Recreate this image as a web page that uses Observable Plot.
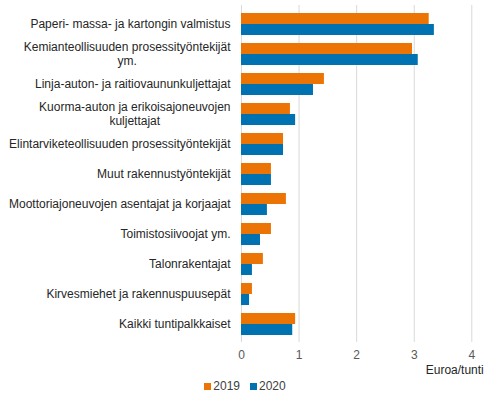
<!DOCTYPE html>
<html>
<head>
<meta charset="utf-8">
<script src="https://cdn.jsdelivr.net/npm/d3@7"></script>
<script src="https://cdn.jsdelivr.net/npm/@observablehq/plot@0.6"></script>
<style>
  body { margin: 0; background: #fff; font-family: "Liberation Sans", Arial, sans-serif; }
  #legend { display: flex; justify-content: center; gap: 10px; font-size: 12px; color: #404040; padding-left: 4px; height: 16px; align-items: center; }
  #legend span.sw { display: inline-block; width: 7px; height: 7px; margin-right: 2px; }
</style>
</head>
<body>
<div id="chart"></div>
<div id="legend"></div>
<script>
const categories = [
  "Paperi- massa- ja kartongin valmistus",
  "Kemianteollisuuden prosessityöntekijät\nym.",
  "Linja-auton- ja raitiovaununkuljettajat",
  "Kuorma-auton ja erikoisajoneuvojen\nkuljettajat",
  "Elintarviketeollisuuden prosessityöntekijät",
  "Muut rakennustyöntekijät",
  "Moottoriajoneuvojen asentajat ja korjaajat",
  "Toimistosiivoojat ym.",
  "Talonrakentajat",
  "Kirvesmiehet ja rakennuspuusepät",
  "Kaikki tuntipalkkaiset"
];
const v2019 = [3.26, 2.97, 1.44, 0.85, 0.73, 0.52, 0.78, 0.52, 0.38, 0.19, 0.94];
const v2020 = [3.35, 3.07, 1.25, 0.94, 0.73, 0.52, 0.45, 0.33, 0.19, 0.14, 0.89];
const years = ["2019", "2020"];
const colors = ["#ec7404", "#0072b1"];
const xTicks = [0, 1, 2, 3, 4];

const rows2019 = categories.map((c, i) => ({ category: c, value: v2019[i] }));
const rows2020 = categories.map((c, i) => ({ category: c, value: v2020[i] }));

const half = 11;
const labelFont = "12px 'Liberation Sans', Arial, sans-serif";
const labelColor = "#262626";

// wrapped labels: lines centred on each other, block right-aligned (Excel style)
const ctx = document.createElement("canvas").getContext("2d");
ctx.font = labelFont;
const wrapMarks = [];
categories.filter(c => c.includes("\n")).forEach(c => {
  const lines = c.split("\n");
  const maxW = d3.max(lines, l => ctx.measureText(l).width);
  lines.forEach((line, i) => {
    wrapMarks.push(Plot.text([c], {
      y: d => d, text: () => line, frameAnchor: "left", textAnchor: "middle",
      dx: -11 - maxW / 2, dy: (i - (lines.length - 1) / 2) * 14,
      fill: labelColor, fontSize: 12
    }));
  });
});

const plot = Plot.plot({
  width: 486,
  height: 378,
  marginTop: 5,
  marginBottom: 36,
  marginLeft: 241,
  marginRight: 14.7,
  style: { fontFamily: "Liberation Sans, Arial, sans-serif", fontSize: "12px", color: "#404040" },
  x: { domain: [0, 4], ticks: xTicks, label: null },
  y: { domain: categories, paddingInner: 0.28, paddingOuter: 0.16, label: null },
  marks: [
    Plot.gridX(xTicks, { stroke: "#d9d9d9", strokeOpacity: 1, strokeWidth: 1 }),
    Plot.barX(rows2019, { x: "value", y: "category", fill: colors[0], insetBottom: half }),
    Plot.barX(rows2020, { x: "value", y: "category", fill: colors[1], insetTop: half }),
    Plot.axisX({ ticks: xTicks, tickFormat: d => String(d), tickSize: 0, tickPadding: 8, fill: "#595959", label: null, fontSize: 12 }),
    Plot.axisY({ tickSize: 0, tickPadding: 11, label: null, fontSize: 12, fill: labelColor,
      tickFormat: d => d.includes("\n") ? "" : d }),
    ...wrapMarks,
    Plot.text(["Euroa/tunti"], { frameAnchor: "bottom-right", textAnchor: "end", dx: 12, dy: 31, fill: labelColor, fontSize: 12 })
  ]
});
document.querySelector("#chart").append(plot);

const legend = document.querySelector("#legend");
years.forEach((y, i) => {
  const item = document.createElement("span");
  item.innerHTML = `<span class="sw" style="background:${colors[i]}"></span>${y}`;
  legend.append(item);
});
</script>
</body>
</html>
